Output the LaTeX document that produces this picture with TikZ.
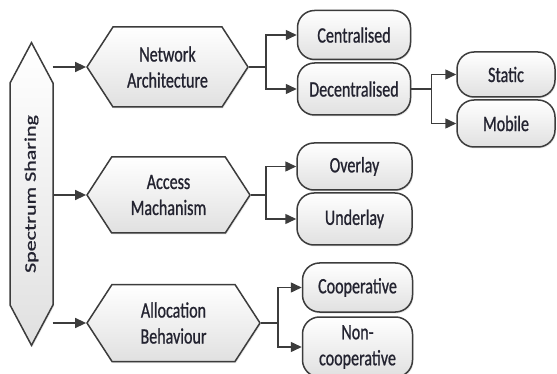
\documentclass[tikz,border=0pt]{standalone}
\usepackage{fontspec}
\setmainfont{Carlito}[FakeStretch=0.73,FakeBold=0.8]
\newfontfamily\sidefont{Carlito}[FakeBold=0.8]
\usetikzlibrary{shapes.symbols,arrows.meta,shadows}

\definecolor{edge}{RGB}{60,60,60}
\definecolor{txt}{RGB}{35,35,48}

\tikzset{
  softshade/.style={draw=edge, line width=1.5pt, top color=white, bottom color=black!12,
    drop shadow={opacity=0.18, shadow xshift=1pt, shadow yshift=-1.5pt}},
  sharebox/.style={softshade, shape=signal, signal to=north and south, signal pointer angle=56,
    minimum width=43pt, minimum height=248pt, inner sep=0pt, text=txt},
  hexbox/.style={softshade, shape=signal, signal to=east and west, signal pointer angle=114,
    minimum width=161pt, minimum height=80pt, inner sep=0pt, align=center, text=txt,
    font=\fontsize{22}{26}\selectfont},
  leafbox/.style={softshade, rectangle, rounded corners=17pt, minimum width=113pt,
    minimum height=49pt, inner sep=0pt, align=center, text=txt,
    font=\fontsize{22}{26}\selectfont},
  link/.style={draw=edge, line width=1.5pt, -{Triangle[length=11pt,width=10pt]}},
}

\begin{document}
\begin{tikzpicture}[x=1pt,y=-1pt]
  \useasboundingbox (0,0) rectangle (557,374);

  % root
  \node[sharebox] (ss) at (31.5,194)
    {\rotatebox{90}{\scalebox{1}[0.73]{\sidefont\fontsize{22}{26}\selectfont Spectrum Sharing}}};
  \coordinate (ssr) at ([xshift=21pt]ss.center);

  % categories
  \node[hexbox] (arch) at (167.5,67) {Network\\Architecture};
  \node[hexbox, minimum width=163pt, minimum height=76pt] (access) at (168.5,195) {Access\\Machanism};
  \node[hexbox, minimum width=173pt, minimum height=77pt] (alloc) at (173.5,323) {Allocation\\Behaviour};

  % leaves
  \node[leafbox] (cen) at (354,35) {Centralised};
  \node[leafbox, minimum height=52pt] (dec) at (354,89) {Decentralised};
  \node[leafbox, minimum width=98pt, minimum height=45pt] (sta) at (506,74.5) {Static};
  \node[leafbox, minimum width=98pt, minimum height=47pt] (mob) at (506,123.5) {Mobile};
  \node[leafbox, minimum width=115pt, minimum height=47pt] (over) at (354.5,166.5) {Overlay};
  \node[leafbox, minimum width=115pt, minimum height=52pt] (under) at (354.5,219) {Underlay};
  \node[leafbox, minimum width=110pt] (coop) at (357.5,287.5) {Cooperative};
  \node[leafbox, minimum width=110pt, minimum height=60pt] (noncoop) at (357.5,347) {Non-\\cooperative};

  % links
  \draw[link] (ssr |- arch.west) -- (arch.west);
  \draw[link] (ssr |- access.west) -- (access.west);
  \draw[link] (ssr |- alloc.west) -- (alloc.west);

  \draw[link] (arch.east) -- ++(17,0) |- (cen.west);
  \draw[link] (arch.east) -- ++(17,0) |- (dec.west);
  \draw[link] (dec.east) -- ++(20,0) |- (sta.west);
  \draw[link] (dec.east) -- ++(20,0) |- (mob.west);
  \draw[link] (access.east) -- ++(15,0) |- (over.west);
  \draw[link] (access.east) -- ++(15,0) |- (under.west);
  \draw[link] (alloc.east) -- ++(17,0) |- (coop.west);
  \draw[link] (alloc.east) -- ++(17,0) |- (noncoop.west);
\end{tikzpicture}
\end{document}
